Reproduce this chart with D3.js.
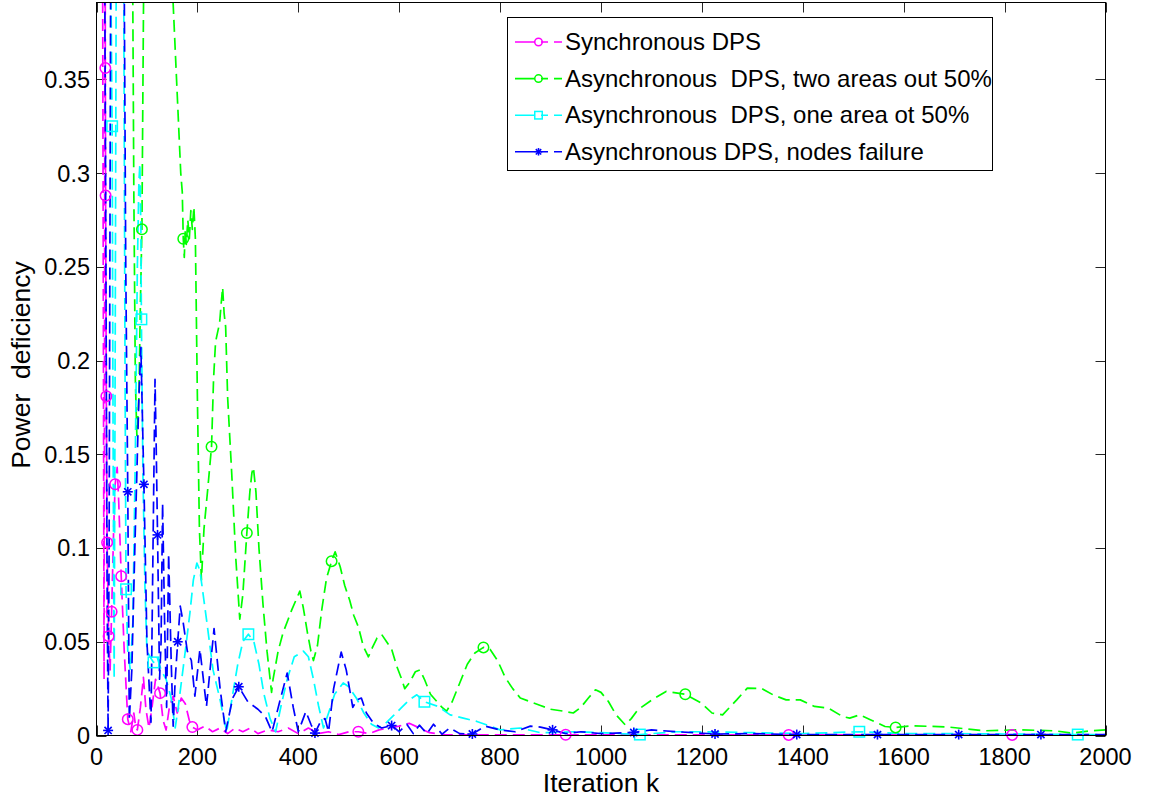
<!DOCTYPE html>
<html><head><meta charset="utf-8">
<script src="https://cdn.jsdelivr.net/npm/d3@7"></script>
<style>
body{margin:0;background:#fff;}
svg{display:block;font-family:"Liberation Sans",Arial,Helvetica,sans-serif;}
</style></head><body>
<svg id="chart" width="1158" height="801"></svg>
<script>
// ---------- data ----------
const xTicks = [0,200,400,600,800,1000,1200,1400,1600,1800,2000];
const yTicks = [0,0.05,0.1,0.15,0.2,0.25,0.3,0.35];
const yTickLabels = ["0","0.05","0.1","0.15","0.2","0.25","0.3","0.35"];
const xLabel = "Iteration k";
const yLabel = "Power  deficiency";
const seriesNames = ["Synchronous DPS","Asynchronous  DPS, two areas out 50%","Asynchronous  DPS, one area ot 50%","Asynchronous DPS, nodes failure"];

const syncData = [[1,1.4],[9,0.8],[13,0.3],[15,0.03],[16,0.2],[17,0.5],[17.5,0.356],[18,0.288],[19.5,0.181],[21,0.103],[24,0.053],[27,0.035],[30,0.066],[34,0.11],[37,0.134],[41,0.143],[44,0.125],[49,0.085],[55,0.045],[62,0.0087],[68,0.002],[74,0.012],[78,0.004],[81,0.003],[87,0.015],[93,0.031],[98,0.014],[104,0.004],[110,0.015],[117,0.03],[126,0.0226],[132,0.008],[138,0.003],[145,0.016],[152,0.021],[160,0.012],[168,0.02],[176,0.017],[184,0.008],[190,0.0045],[200,0.003],[215,0.005],[230,0.002],[245,0.004],[260,0.001],[275,0.004],[290,0.002],[305,0.004],[320,0.001],[340,0.003],[360,0.002],[380,0.004],[400,0.001],[420,0.004],[440,0.001],[460,0.002],[480,0.0005],[500,0.002],[519,0.002],[540,0.001],[560,0.003],[580,0.004],[600,0.005],[620,0.0065],[640,0.004],[660,0.0015],[690,0.0005],[720,0.0003],[800,0.0003],[930,0.0004],[1000,0.0003],[1372,0.0003],[1815,0.0003],[2000,0.0003]];
const syncMarkers = [[17.5,0.356],[18,0.288],[19.5,0.181],[21,0.103],[24,0.053],[30,0.066],[37,0.134],[49,0.085],[62,0.0087],[81,0.003],[126,0.0226],[190,0.0045],[519,0.002],[930,0.0004],[1372,0.0003],[1815,0.0003]];

const twoAreaData = [[1,1.5],[40,1.0],[65,0.6],[72,0.39],[74,0.29],[77,0.19],[80,0.16],[84,0.18],[87,0.23],[90,0.27],[94,0.42],[110,0.7],[140,0.5],[152,0.39],[162,0.33],[167,0.30],[170,0.29],[172,0.265],[174,0.255],[176,0.27],[178,0.262],[181,0.275],[184,0.265],[187,0.28],[190,0.27],[193,0.282],[196,0.265],[200,0.18],[204,0.11],[208,0.083],[213,0.11],[220,0.13],[228,0.154],[232,0.19],[236,0.21],[240,0.215],[244,0.22],[247,0.23],[250,0.239],[253,0.225],[256,0.218],[260,0.18],[268,0.14],[276,0.095],[284,0.062],[290,0.075],[298,0.108],[304,0.13],[308,0.14],[311,0.143],[316,0.13],[322,0.1],[330,0.07],[338,0.045],[347,0.023],[350,0.03],[360,0.045],[370,0.055],[380,0.062],[387,0.067],[395,0.072],[403,0.077],[410,0.068],[418,0.055],[425,0.045],[430,0.04],[438,0.048],[447,0.068],[456,0.084],[466,0.093],[473,0.098],[483,0.09],[492,0.08],[502,0.072],[510,0.064],[519,0.058],[529,0.0475],[539,0.042],[547,0.047],[556,0.052],[565,0.054],[575,0.05],[585,0.046],[595,0.037],[605,0.03],[611,0.025],[620,0.028],[632,0.034],[641,0.035],[650,0.03],[662,0.022],[675,0.018],[685,0.015],[694,0.013],[705,0.018],[720,0.028],[735,0.038],[750,0.044],[767,0.047],[780,0.046],[795,0.04],[810,0.031],[825,0.025],[840,0.02],[860,0.018],[880,0.016],[900,0.014],[925,0.013],[945,0.012],[960,0.015],[975,0.02],[989,0.0244],[1000,0.023],[1015,0.018],[1030,0.011],[1048,0.0057],[1060,0.009],[1073,0.0137],[1101,0.019],[1129,0.0235],[1167,0.022],[1199,0.0173],[1220,0.012],[1241,0.011],[1255,0.015],[1269,0.019],[1290,0.0253],[1318,0.0251],[1341,0.0217],[1367,0.019],[1395,0.019],[1423,0.0155],[1451,0.0146],[1479,0.0101],[1493,0.0093],[1513,0.011],[1535,0.0083],[1563,0.0048],[1584,0.0043],[1618,0.0052],[1689,0.0045],[1759,0.0025],[1829,0.003],[1899,0.0025],[1934,0.0013],[1969,0.0025],[2000,0.003]];
const twoAreaMarkers = [[90,0.27],[172,0.265],[228,0.154],[298,0.108],[466,0.093],[767,0.047],[1167,0.022],[1584,0.0043]];

const oneAreaData = [[1,1.2],[20,0.7],[27,0.45],[31,0.325],[33,0.15],[35,0.03],[37,0.2],[40,0.5],[50,0.55],[54,0.4],[56.5,0.2],[58.5,0.078],[62,0.045],[67,0.035],[72,0.06],[77,0.15],[81,0.25],[84,0.295],[86,0.305],[88,0.27],[89,0.222],[92,0.14],[96,0.08],[100,0.045],[106,0.042],[113,0.039],[120,0.042],[128,0.035],[138,0.03],[148,0.02],[156,0.004],[162,0.015],[168,0.028],[176,0.045],[185,0.065],[192,0.083],[199,0.092],[205,0.088],[218,0.062],[231,0.035],[245,0.019],[258,0.002],[270,0.022],[280,0.038],[290,0.05],[301,0.054],[312,0.05],[322,0.038],[332,0.022],[344,0.009],[355,0.002],[366,0.016],[378,0.03],[392,0.042],[410,0.045],[420,0.042],[430,0.03],[440,0.016],[450,0.004],[460,0.012],[472,0.022],[489,0.028],[500,0.026],[515,0.02],[530,0.012],[545,0.006],[559,0.004],[575,0.007],[590,0.011],[605,0.015],[620,0.019],[635,0.0217],[650,0.018],[677,0.0155],[701,0.011],[727,0.0093],[754,0.0075],[780,0.005],[800,0.003],[840,0.004],[880,0.0015],[950,0.002],[1000,0.0015],[1077,0.0005],[1150,0.002],[1206,0.002],[1300,0.0015],[1400,0.001],[1512,0.002],[1600,0.001],[1700,0.001],[1800,0.0008],[1945,0.0005],[2000,0.0005]];
const oneAreaMarkers = [[31,0.325],[58.5,0.078],[89,0.222],[113,0.039],[301,0.054],[650,0.018],[1077,0.0005],[1512,0.002],[1945,0.0005]];

const nodeFailData = [[1,1.5],[10,0.8],[18,0.3],[21,0.08],[23,0.0027],[25,0.1],[28,0.4],[40,0.6],[50,0.5],[55,0.4],[58,0.25],[62,0.13],[65,0.008],[70,0.035],[76,0.1],[84,0.18],[88,0.207],[91,0.17],[94,0.134],[100,0.05],[108,0.007],[112,0.1],[116,0.19],[118,0.16],[121,0.107],[125,0.03],[128,0.05],[131,0.124],[135,0.06],[139,0.015],[143,0.097],[148,0.04],[152,0.005],[156,0.03],[161,0.05],[166,0.069],[172,0.06],[180,0.045],[188,0.04],[195,0.021],[205,0.046],[218,0.0155],[233,0.057],[245,0.025],[256,0.002],[270,0.02],[282,0.026],[300,0.018],[320,0.014],[335,0.01],[348,0.002],[365,0.02],[378,0.0333],[390,0.015],[400,0.002],[415,0.0128],[425,0.006],[433,0.0013],[445,0.008],[453,0.009],[460,0.002],[470,0.025],[485,0.0445],[495,0.035],[508,0.015],[516,0.019],[525,0.02],[535,0.012],[549,0.0066],[565,0.004],[585,0.0053],[600,0.002],[615,0.006],[628,0.001],[640,0.0055],[655,0.001],[668,0.006],[685,0.0007],[700,0.004],[720,0.001],[745,0.0008],[770,0.005],[800,0.003],[830,0.002],[860,0.005],[880,0.0045],[904,0.003],[930,0.001],[960,0.002],[1000,0.001],[1065,0.0016],[1100,0.003],[1150,0.002],[1226,0.0008],[1300,0.001],[1388,0.0005],[1548,0.0005],[1709,0.0005],[1872,0.0005],[2000,0.0005]];
const nodeFailMarkers = [[23,0.0027],[62,0.13],[94,0.134],[121,0.107],[161,0.05],[282,0.026],[433,0.0013],[585,0.0053],[745,0.0008],[904,0.003],[1065,0.0016],[1226,0.0008],[1388,0.0005],[1548,0.0005],[1709,0.0005],[1872,0.0005]];

const seriesColors = ["#ff00ff","#00ff00","#00ffff","#0000ff"];
const seriesMarkerTypes = ["circle","circle","square","star"];

// ---------- layout ----------
const svg = d3.select("#chart");
const L = 96.5, R = 1105.5, T = 2.5, B = 735.5;
const x = d3.scaleLinear().domain([0,2000]).range([L,R]);
const y = d3.scaleLinear().domain([0,0.391]).range([B,T]);

svg.append("rect").attr("width",1158).attr("height",801).attr("fill","#fff");
svg.append("defs").append("clipPath").attr("id","clip")
  .append("rect").attr("x",L).attr("y",T).attr("width",R-L).attr("height",B-T);

// ticks (inward, all four sides)
const tickLen = 10, tickCol = "#262626";
const tg = svg.append("g").attr("stroke",tickCol).attr("stroke-width",1);
xTicks.forEach(t=>{
  const px = Math.round(x(t))+0.5;
  tg.append("line").attr("x1",px).attr("x2",px).attr("y1",B).attr("y2",B-tickLen);
  tg.append("line").attr("x1",px).attr("x2",px).attr("y1",T).attr("y2",T+tickLen);
});
yTicks.forEach(t=>{
  const py = Math.round(y(t))+0.5;
  tg.append("line").attr("x1",L).attr("x2",L+tickLen).attr("y1",py).attr("y2",py);
  tg.append("line").attr("x1",R).attr("x2",R-tickLen).attr("y1",py).attr("y2",py);
});

// lines
const allData = [syncData,twoAreaData,oneAreaData,nodeFailData];
const allMarkers = [syncMarkers,twoAreaMarkers,oneAreaMarkers,nodeFailMarkers];
const line = d3.line().x(d=>x(d[0])).y(d=>y(d[1]));
const lg = svg.append("g").attr("clip-path","url(#clip)");
allData.forEach((data,i)=>{
  lg.append("path").datum(data).attr("d",line)
    .attr("fill","none").attr("stroke",seriesColors[i])
    .attr("stroke-width",1.7).attr("stroke-dasharray","12,6")
    .attr("stroke-linejoin","round");
});

// markers
function drawMarker(g, type, cx, cy, size, color){
  const s = size/2;
  if(type==="circle"){
    g.append("circle").attr("cx",cx).attr("cy",cy).attr("r",s)
      .attr("fill","none").attr("stroke",color).attr("stroke-width",1.5);
  } else if(type==="square"){
    g.append("rect").attr("x",cx-s).attr("y",cy-s).attr("width",size).attr("height",size)
      .attr("fill","none").attr("stroke",color).attr("stroke-width",1.5);
  } else {
    const d = s*0.72;
    const segs = [[-s,0,s,0],[0,-s,0,s],[-d,-d,d,d],[-d,d,d,-d]];
    segs.forEach(q=>g.append("line").attr("x1",cx+q[0]).attr("y1",cy+q[1])
      .attr("x2",cx+q[2]).attr("y2",cy+q[3]).attr("stroke",color).attr("stroke-width",1.6));
  }
}
const mg = svg.append("g");
allMarkers.forEach((ms,i)=>{
  ms.forEach(m=>drawMarker(mg, seriesMarkerTypes[i], x(m[0]), y(m[1]), seriesMarkerTypes[i]==="star"?10:10.5, seriesColors[i]));
});

// frame
svg.append("rect").attr("x",L).attr("y",T).attr("width",R-L).attr("height",B-T)
  .attr("fill","none").attr("stroke","#000").attr("stroke-width",1);

// tick labels
const fs = 23.5;
xTicks.forEach(t=>{
  svg.append("text").attr("x",x(t)).attr("y",765).attr("text-anchor","middle")
    .attr("font-size",fs).attr("fill","#000").text(t);
});
yTicks.forEach((t,i)=>{
  svg.append("text").attr("x",90).attr("y",y(t)).attr("dy","0.36em").attr("text-anchor","end")
    .attr("font-size",fs).attr("fill","#000").text(yTickLabels[i]);
});

// axis labels
svg.append("text").attr("x",(L+R)/2).attr("y",792).attr("text-anchor","middle")
  .attr("font-size",26.5).attr("fill","#000").text(xLabel);
svg.append("text").attr("transform","translate(30,365) rotate(-90)")
  .attr("text-anchor","middle").attr("font-size",26.5).attr("fill","#000")
  .style("white-space","pre").text(yLabel);

// legend
const leg = svg.append("g");
leg.append("rect").attr("x",507.5).attr("y",17.5).attr("width",485).attr("height",153)
  .attr("fill","#fff").attr("stroke","#000").attr("stroke-width",1);
seriesNames.forEach((name,i)=>{
  const base = 50 + i*36.6;
  const ly = base - 8;
  leg.append("line").attr("x1",515).attr("x2",562).attr("y1",ly).attr("y2",ly)
    .attr("stroke",seriesColors[i]).attr("stroke-width",1.6).attr("stroke-dasharray","20,6,7,6,8");
  drawMarker(leg, seriesMarkerTypes[i], 538.5, ly, 7.5, seriesColors[i]);
  leg.append("text").attr("x",565).attr("y",base).attr("font-size",24).attr("fill","#000")
    .style("white-space","pre").text(name);
});
</script>
</body></html>
